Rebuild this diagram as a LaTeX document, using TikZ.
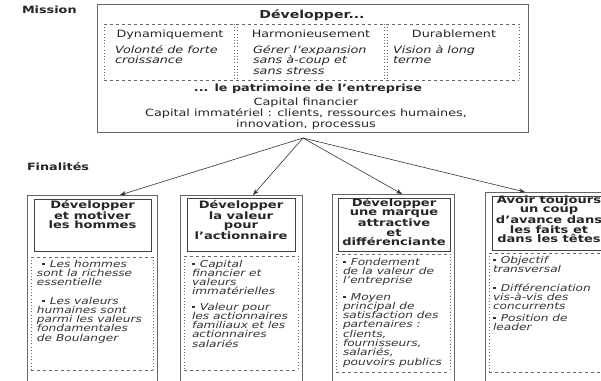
\documentclass[tikz,border=0pt]{standalone}
\usepackage{fontspec}
\setmainfont[FakeStretch=1.28]{DejaVu Sans}
\usetikzlibrary{arrows.meta}
\newcommand{\myTop}{\rule{0pt}{8pt}}
\newcommand{\myBul}{\raisebox{1.7pt}{\rule{2.8pt}{2.8pt}}\hspace*{5pt}}
\newcommand{\myListFrame}[4]{%
  \draw[dashln] (#1,#3) -- (#2,#3);
  \draw[dashln] (#1,#4) -- (#2,#4);
  \draw[dotln] (#1,#3) -- (#1,#4);
  \draw[dotln] (#2,#3) -- (#2,#4);}
\begin{document}
\begin{tikzpicture}[x=1pt,y=-1pt,
  every node/.style={inner sep=0pt, outer sep=0pt, text=black!85},
  frame/.style={draw=black!60, line width=0.6pt},
  tframe/.style={draw=black!75, line width=0.7pt},
  dashln/.style={draw=black!60, line width=0.7pt, dash pattern=on 2.5pt off 3.5pt},
  dotln/.style={draw=black!60, line width=0.8pt, dash pattern=on 0.8pt off 2.4pt},
  lbl/.style={font=\fontsize{10}{11}\selectfont\bfseries, anchor=base west},
  hdr/.style={font=\fontsize{10}{11}\selectfont, anchor=base},
  itx/.style={font=\fontsize{10}{10.8}\selectfont\itshape, align=left, anchor=north west},
  ttl/.style={font=\fontsize{10.2}{9.6}\selectfont\bfseries, align=center, anchor=north},
  lst/.style={font=\fontsize{9.5}{9.3}\selectfont\itshape, align=left, anchor=north west, text=black!80},
  arr/.style={draw=black!80, line width=0.6pt, -{Stealth[length=6pt,width=4.5pt]}}
]
\useasboundingbox (0,0) rectangle (601,380);
\clip (0,0) rectangle (601,380);
\fill[white] (0,0) rectangle (601,380);

% ---- Mission
\node[lbl] (mis) at (22,13) {Mission};
\node[frame, anchor=north west, minimum width=431pt, minimum height=128pt] (mbox) at (97,4) {};
\node[font=\fontsize{11}{12}\selectfont\bfseries, anchor=base] (dev) at (312,18) {Développer...};

\draw[dashln] (104,24) -- (519,24);
\draw[dashln] (104,80) -- (519,80);
\draw[dotln] (104,24) -- (104,80);
\draw[dotln] (519,24) -- (519,80);
\draw[dotln] (234,24) -- (234,80);
\draw[dotln] (237,24) -- (237,80);
\draw[dotln] (384,24) -- (384,80);
\draw[dotln] (387,24) -- (387,80);

\node[hdr] (h1) at (170,37) {Dynamiquement};
\node[hdr] (h2) at (311,37) {Harmonieusement};
\node[hdr] (h3) at (454,37) {Durablement};

\node[itx] (c1) at (115,45) {\myTop Volonté de forte\\croissance};
\node[itx] (c2) at (253,45) {\myTop Gérer l'expansion\\sans à-coup et\\sans stress};
\node[itx] (c3) at (393,45) {\myTop Vision à long\\terme};

\node[font=\fontsize{10}{11}\selectfont\bfseries, anchor=base] (pat) at (308,91) {... le patrimoine de l'entreprise};
\node[font=\fontsize{10}{11}\selectfont, align=center, anchor=north] (cap) at (306,97)
  {\myTop Capital financier\\Capital immatériel : clients, ressources humaines,\\innovation, processus};

\coordinate (hub) at (303,138);

% ---- Finalités
\node[lbl] (fin) at (27,170) {Finalités};

\node[frame, anchor=north west, minimum width=130pt, minimum height=200pt] (o1) at (27,195) {};
\node[frame, anchor=north west, minimum width=122pt, minimum height=200pt] (o2) at (180,195) {};
\node[frame, anchor=north west, minimum width=122pt, minimum height=200pt] (o3) at (332,194) {};
\node[frame, anchor=north west, minimum width=130pt, minimum height=200pt] (o4) at (485,192) {};

\node[tframe, anchor=north west, minimum width=117pt, minimum height=52pt] (i1) at (34,199) {};
\node[tframe, anchor=north west, minimum width=108pt, minimum height=53pt] (i2) at (187,198) {};
\node[tframe, anchor=north west, minimum width=112pt, minimum height=53pt] (i3) at (338,198) {};
\node[tframe, anchor=north west, minimum width=116pt, minimum height=54pt] (i4) at (492,196) {};

\node[ttl] (t1) at (92.5,200) {\myTop Développer\\et motiver\\les hommes};
\node[ttl] (t2) at (241,200) {\myTop Développer\\la valeur\\pour\\l'actionnaire};
\node[ttl] (t3) at (394,198) {\myTop Développer\\une marque\\attractive\\et\\différenciante};
\node[ttl] (t4) at (549,195) {\myTop Avoir toujours\\un coup\\d'avance dans\\les faits et\\dans les têtes};

\myListFrame{31}{153}{257}{370}
\myListFrame{184}{298}{256}{370}
\myListFrame{336}{450}{254}{372}
\myListFrame{489}{610}{253}{372}

\node[lst] (l1a) at (37,259) {\myTop\hspace*{5pt}\myBul Les hommes\\sont la richesse\\essentielle};
\node[lst] (l1b) at (37,296) {\myTop\hspace*{5pt}\myBul Les valeurs\\humaines sont\\parmi les valeurs\\fondamentales\\de Boulanger};

\node[lst] (l2a) at (192,259) {\myTop\myBul Capital\\financier et\\valeurs\\immatérielles};
\node[lst] (l2b) at (192,302) {\myTop\myBul Valeur pour\\les actionnaires\\familiaux et les\\actionnaires\\salariés};

\node[lst] (l3a) at (343,257) {\myTop\myBul Fondement\\de la valeur de\\l'entreprise};
\node[lst] (l3b) at (343,292) {\myTop\myBul Moyen\\principal de\\satisfaction des\\partenaires :\\clients,\\fournisseurs,\\salariés,\\pouvoirs publics};

\node[lst] (l4a) at (493,255) {\myTop\myBul Objectif\\transversal};
\node[lst] (l4b) at (493,283) {\myTop\myBul Différenciation\\vis-à-vis des\\concurrents};
\node[lst] (l4c) at (493,313) {\myTop\myBul Position de\\leader};

\coordinate (a1) at (120,195);
\coordinate (a2) at (253,195);
\coordinate (a3) at (402,194);
\coordinate (a4) at (525,192);
\draw[arr] (hub) -- (a1);
\draw[arr] (hub) -- (a2);
\draw[arr] (hub) -- (a3);
\draw[arr] (hub) -- (a4);
\end{tikzpicture}
\end{document}
